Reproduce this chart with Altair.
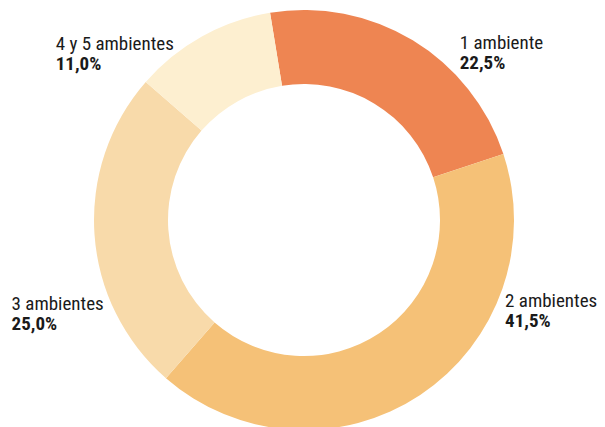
import math
import altair as alt
import pandas as pd

categories = ["1 ambiente", "2 ambientes", "3 ambientes", "4 y 5 ambientes"]
values = [22.5, 41.5, 25.0, 11.0]
pct_labels = ["22,5%", "41,5%", "25,0%", "11,0%"]
colors = ["#EE8552", "#F5C177", "#F8DAAA", "#FDEFD0"]

df = pd.DataFrame({
    "cat": categories,
    "value": values,
    "pct": pct_labels,
    "order": list(range(len(categories))),
})

start = math.radians(-9.3)
theta_scale = alt.Scale(domain=[0, 100], range=[2 * math.pi + start, 4 * math.pi + start])
CX, CY = 296, 212
FONT = "Roboto Condensed"

base = alt.Chart(df).transform_window(
    end="sum(value)", frame=[None, 0], sort=[alt.SortField("order")]
).transform_calculate(
    start="datum.end - datum.value",
    mid="datum.end - datum.value / 2",
)

arc = base.mark_arc(innerRadius=136, outerRadius=210, x=CX, y=CY).encode(
    theta=alt.Theta("start:Q", scale=theta_scale),
    theta2="end:Q",
    color=alt.Color("cat:N", scale=alt.Scale(domain=categories, range=colors), legend=None),
)

# label offsets (style) relative to an anchor at the slice mid-angle
offsets = {
    "1 ambiente": (34, 30),
    "2 ambientes": (71, -109),
    "3 ambientes": (-58, 74),
    "4 y 5 ambientes": (-134, 35),
}

layers = [arc]
for cat in categories:
    dx, dy = offsets[cat]
    sub = base.transform_filter(alt.datum.cat == cat)
    layers.append(sub.mark_text(
        x=CX, y=CY, radius=235, dx=dx, dy=dy, align="left", baseline="alphabetic",
        font=FONT, fontSize=19, color="#1a1a1a",
    ).encode(theta=alt.Theta("mid:Q", scale=theta_scale), text="cat:N"))
    layers.append(sub.mark_text(
        x=CX, y=CY, radius=235, dx=dx, dy=dy + 20.5, align="left", baseline="alphabetic",
        font=FONT, fontSize=19, fontWeight="bold", color="#1a1a1a",
    ).encode(theta=alt.Theta("mid:Q", scale=theta_scale), text="pct:N"))

chart = alt.layer(*layers).properties(
    width=589, height=419, padding=0,
    autosize=alt.AutoSizeParams(type="none"),
).configure_view(stroke=None)

chart.save("out.html", embed_options={"renderer": "svg", "actions": False})
